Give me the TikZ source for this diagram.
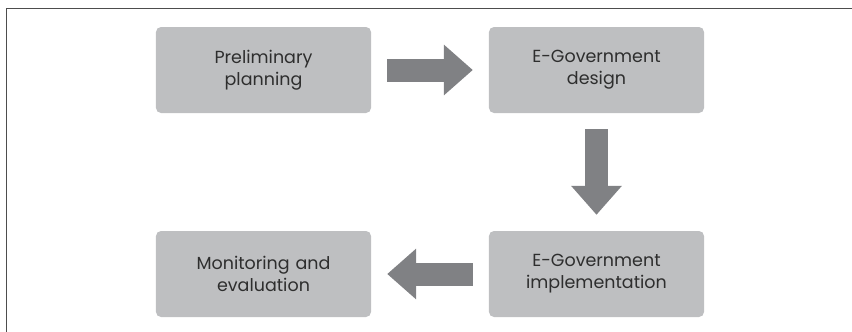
\documentclass[tikz,border=0pt]{standalone}
\usepackage{fontspec}
\setmainfont{Poppins}
\usetikzlibrary{arrows.meta,matrix}
\definecolor{boxgray}{HTML}{BEBFC1}
\definecolor{arrowgray}{HTML}{808184}
\definecolor{framegray}{HTML}{4D4D4D}
\definecolor{textgray}{HTML}{2E2E2E}

\begin{document}
\begin{tikzpicture}[x=1pt,y=-1pt, flow/.style={line width=23pt,arrowgray,shorten <=16pt,shorten >=16pt,-{Triangle[width=49pt,length=29pt]}}]
\useasboundingbox (0,0) rectangle (852,332);
\draw[framegray,line width=1.3pt] (6.7,332) -- (6.7,8.7) -- (852,8.7);
\matrix (m) at (430,172) [matrix of nodes, column sep=118pt, row sep=118pt, nodes={fill=boxgray, rounded corners=5pt, minimum width=215pt, minimum height=86pt, text width=205pt, align=center, font=\fontsize{17.5}{22}\selectfont, text=textgray, anchor=center} ]{
{Preliminary\\planning} & {E-Government\\design} \\
{Monitoring and\\evaluation} & {E-Government\\implementation} \\
};

\draw[flow] (m-1-1.east)--(m-1-2.west);
\draw[flow] (m-1-2.south)--(m-2-2.north);
\draw[flow] (m-2-2.west)--(m-2-1.east);
\end{tikzpicture}
\end{document}
